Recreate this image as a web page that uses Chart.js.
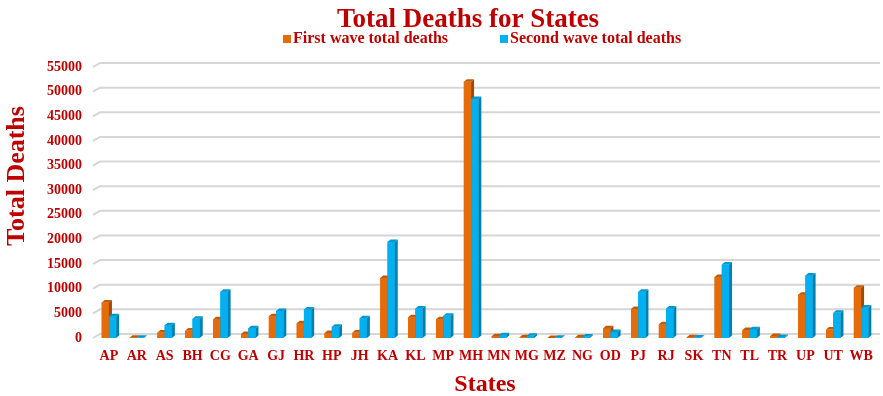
<!DOCTYPE html>
<html>
<head>
<meta charset="utf-8">
<script src="https://cdn.jsdelivr.net/npm/chart.js@4.4.1/dist/chart.umd.min.js"></script>
<style>
  html, body { margin: 0; padding: 0; background: #ffffff; }
  #wrap { width: 883px; height: 396px; }
</style>
</head>
<body>
<div id="wrap"><canvas id="chart" width="883" height="396"></canvas></div>
<script>
// State codes along the x axis
const states = ['AP', 'AR', 'AS', 'BH', 'CG', 'GA', 'GJ', 'HR', 'HP', 'JH', 'KA', 'KL', 'MP', 'MH',
                'MN', 'MG', 'MZ', 'NG', 'OD', 'PJ', 'RJ', 'SK', 'TN', 'TL', 'TR', 'UP', 'UT', 'WB'];

// Deaths per state in each wave
const firstWave  = [7200, 60, 1100, 1500, 3800, 800, 4400, 3000, 1000, 1100, 12200, 4200, 3800, 52000,
                    380, 150, 20, 130, 2000, 5900, 2800, 150, 12400, 1600, 390, 8800, 1700, 10200];
const secondWave = [4400, 60, 2600, 3900, 9400, 2000, 5500, 5800, 2300, 4000, 19500, 6000, 4500, 48500,
                    550, 450, 60, 300, 1200, 9400, 6000, 100, 14900, 1800, 200, 12700, 5100, 6200];

// Value axis ticks
const yTicks = [0, 5000, 10000, 15000, 20000, 25000, 30000, 35000, 40000, 45000, 50000, 55000];

const seriesNames = ['First wave total deaths', 'Second wave total deaths'];
const TITLE = 'Total Deaths for States';
const Y_TITLE = 'Total Deaths';

const RED = '#C00000';
const SERIF = "'Liberation Serif', 'Times New Roman', serif";
const palette = [
  { front: '#E46C0A', side: '#9C4A06', top: '#C25B08' },
  { front: '#00B0F0', side: '#0080B0', top: '#0098CF' }
];
const DX = 3, DY = 2.5;

// Back-wall gridlines with a short slanted floor edge on the left
const wallGrid = {
  id: 'wallGrid',
  beforeDatasetsDraw(chart) {
    const { ctx, chartArea: a } = chart;
    const ys = chart.scales.y;
    ctx.save();
    ctx.strokeStyle = '#D6D6D6';
    ctx.lineWidth = 2;
    yTicks.forEach(v => {
      const py = ys.getPixelForValue(v);
      ctx.beginPath();
      ctx.moveTo(a.left - 2, py);
      ctx.lineTo(a.left + 5, py - 4);
      ctx.lineTo(a.right + 5, py - 4);
      ctx.stroke();
    });
    ctx.restore();
  }
};

// Extruded look: side and top faces for every column, drawn category by category
const columns3d = {
  id: 'columns3d',
  afterDatasetsDraw(chart) {
    const { ctx } = chart;
    const metas = chart.data.datasets.map((_, i) => chart.getDatasetMeta(i));
    ctx.save();
    for (let i = 0; i < states.length; i++) {
      metas.forEach((meta, d) => {
        const bar = meta.data[i];
        if (!bar) return;
        const { x, y, base, width } = bar.getProps(['x', 'y', 'base', 'width'], true);
        const l = x - width / 2, r = x + width / 2;
        const c = palette[d];
        // front
        ctx.fillStyle = c.front;
        ctx.fillRect(l, y, width, base - y);
        // side
        ctx.fillStyle = c.side;
        ctx.beginPath();
        ctx.moveTo(r, y);
        ctx.lineTo(r + DX, y - DY);
        ctx.lineTo(r + DX, base - DY);
        ctx.lineTo(r, base);
        ctx.closePath();
        ctx.fill();
        // top
        ctx.fillStyle = c.top;
        ctx.beginPath();
        ctx.moveTo(l, y);
        ctx.lineTo(l + DX, y - DY);
        ctx.lineTo(r + DX, y - DY);
        ctx.lineTo(r, y);
        ctx.closePath();
        ctx.fill();
      });
    }
    ctx.restore();
  }
};

// Heading, series key and rotated value-axis caption
const header = {
  id: 'header',
  afterDraw(chart) {
    const { ctx } = chart;
    ctx.save();
    ctx.fillStyle = RED;
    ctx.textBaseline = 'alphabetic';
    ctx.textAlign = 'center';
    ctx.font = 'bold 27px ' + SERIF;
    ctx.fillText(TITLE, 468, 27);

    ctx.font = 'bold 16px ' + SERIF;
    ctx.textAlign = 'left';
    const starts = [283, 500];
    seriesNames.forEach((name, i) => {
      ctx.fillStyle = palette[i].front;
      ctx.fillRect(starts[i], 35, 8, 8);
      ctx.fillStyle = RED;
      ctx.fillText(name, starts[i] + 10, 43);
    });

    ctx.translate(17, 176);
    ctx.rotate(-Math.PI / 2);
    ctx.textAlign = 'center';
    ctx.textBaseline = 'middle';
    ctx.font = 'bold 26px ' + SERIF;
    ctx.fillStyle = RED;
    ctx.fillText(Y_TITLE, 0, 0);
    ctx.restore();
  }
};

new Chart(document.getElementById('chart'), {
  type: 'bar',
  data: {
    labels: states,
    datasets: [
      { label: seriesNames[0], data: firstWave,  backgroundColor: palette[0].front },
      { label: seriesNames[1], data: secondWave, backgroundColor: palette[1].front }
    ]
  },
  options: {
    responsive: false,
    animation: false,
    devicePixelRatio: 1,
    categoryPercentage: 0.52,
    barPercentage: 1.0,
    layout: { padding: { top: 67, right: 8, bottom: 0, left: 0 } },
    plugins: {
      legend: { display: false },
      title: { display: false },
      tooltip: { enabled: false }
    },
    scales: {
      x: {
        grid: { display: false, drawTicks: false },
        border: { display: false },
        ticks: {
          color: RED,
          padding: 10,
          maxRotation: 0,
          autoSkip: false,
          font: { family: SERIF, size: 14, weight: 'bold' }
        },
        title: {
          display: true,
          text: 'States',
          color: RED,
          padding: { top: 0, bottom: -3 },
          font: { family: SERIF, size: 24, weight: 'bold' }
        },
        afterFit(scale) { scale.height = 58; }
      },
      y: {
        min: 0,
        max: 55000,
        grid: { display: false, drawTicks: false },
        border: { display: false },
        afterBuildTicks(scale) { scale.ticks = yTicks.map(v => ({ value: v })); },
        ticks: {
          color: RED,
          padding: 13,
          callback: v => String(v),
          font: { family: SERIF, size: 14, weight: 'bold' }
        },
        afterFit(scale) { scale.width = 95; }
      }
    }
  },
  plugins: [wallGrid, columns3d, header]
});
</script>
</body>
</html>
